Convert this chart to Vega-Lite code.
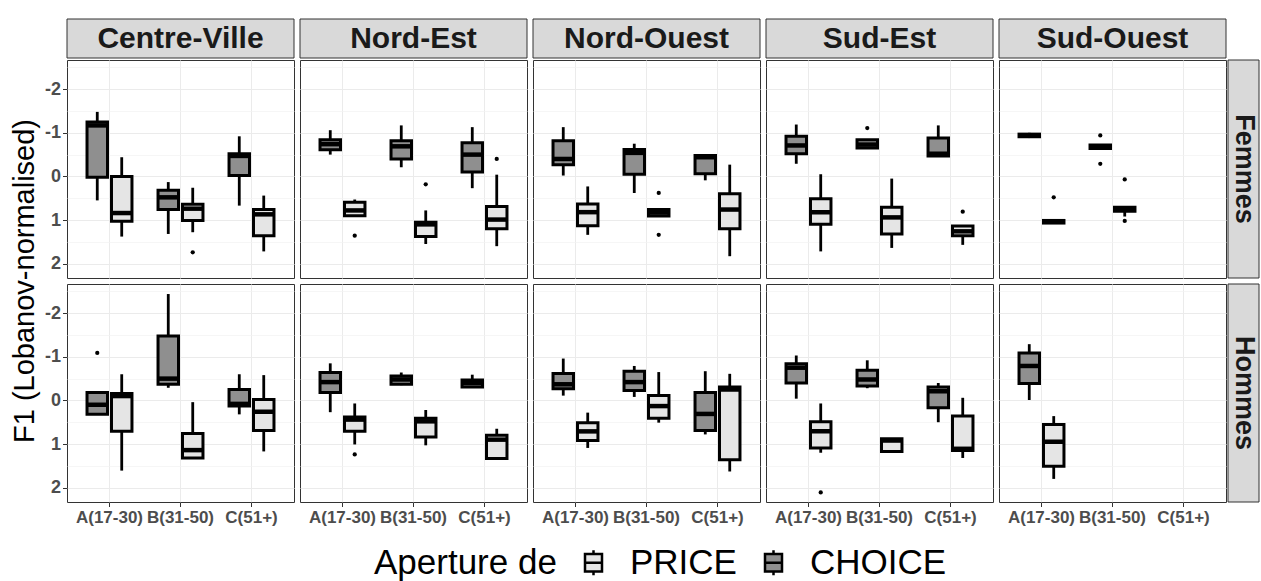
{
  "$schema": "https://vega.github.io/schema/vega-lite/v6.json",
  "background": "white",
  "padding": {"left": 0, "top": 18, "right": 0, "bottom": 0},
  "config": {
    "font": "Liberation Sans",
    "view": {"stroke": "#333333", "strokeWidth": 1},
    "locale": {"number": {"decimal": ".", "thousands": ",", "grouping": [3], "currency": ["$", ""], "minus": "-"}},
    "legend": {"direction": "horizontal", "titleOrient": "left", "titleFontSize": 35, "titleFontWeight": "normal", "titleColor": "black", "titleFont": "Liberation Sans", "titlePadding": 19, "titleLimit": 600,
      "labelFontSize": 35, "labelFont": "Liberation Sans", "labelColor": "black", "labelOffset": 19, "columnPadding": 19, "labelLimit": 400,
      "symbolType": "M-0.68,-0.7L0.68,-0.7L0.68,0.7L-0.68,0.7Z M-0.68,0L0.68,0 M0,-0.7L0,-1 M0,0.7L0,1",
      "symbolSize": 625, "symbolStrokeWidth": 2.5, "symbolStrokeColor": "black", "padding": 0}
  },
  "datasets": {
    "boxes": [
      {"region": "Centre-Ville", "sex": "Femmes", "age": "A(17-30)", "word": "CHOICE", "lo": -1.48, "q1": -1.25, "med": -1.17, "q3": 0.02, "hi": 0.55},
      {"region": "Centre-Ville", "sex": "Femmes", "age": "A(17-30)", "word": "PRICE", "lo": -0.44, "q1": 0.0, "med": 0.84, "q3": 1.03, "hi": 1.38},
      {"region": "Centre-Ville", "sex": "Femmes", "age": "B(31-50)", "word": "CHOICE", "lo": 0.13, "q1": 0.32, "med": 0.48, "q3": 0.76, "hi": 1.32},
      {"region": "Centre-Ville", "sex": "Femmes", "age": "B(31-50)", "word": "PRICE", "lo": 0.26, "q1": 0.64, "med": 0.74, "q3": 1.01, "hi": 1.28},
      {"region": "Centre-Ville", "sex": "Femmes", "age": "C(51+)", "word": "CHOICE", "lo": -0.92, "q1": -0.52, "med": -0.47, "q3": -0.02, "hi": 0.67},
      {"region": "Centre-Ville", "sex": "Femmes", "age": "C(51+)", "word": "PRICE", "lo": 0.44, "q1": 0.76, "med": 0.87, "q3": 1.36, "hi": 1.72},
      {"region": "Nord-Est", "sex": "Femmes", "age": "A(17-30)", "word": "CHOICE", "lo": -1.06, "q1": -0.84, "med": -0.74, "q3": -0.61, "hi": -0.5},
      {"region": "Nord-Est", "sex": "Femmes", "age": "A(17-30)", "word": "PRICE", "lo": 0.53, "q1": 0.59, "med": 0.78, "q3": 0.9, "hi": 0.9},
      {"region": "Nord-Est", "sex": "Femmes", "age": "B(31-50)", "word": "CHOICE", "lo": -1.17, "q1": -0.82, "med": -0.69, "q3": -0.4, "hi": -0.21},
      {"region": "Nord-Est", "sex": "Femmes", "age": "B(31-50)", "word": "PRICE", "lo": 0.78, "q1": 1.05, "med": 1.1, "q3": 1.38, "hi": 1.55},
      {"region": "Nord-Est", "sex": "Femmes", "age": "C(51+)", "word": "CHOICE", "lo": -1.13, "q1": -0.77, "med": -0.5, "q3": -0.1, "hi": 0.27},
      {"region": "Nord-Est", "sex": "Femmes", "age": "C(51+)", "word": "PRICE", "lo": -0.04, "q1": 0.69, "med": 0.99, "q3": 1.2, "hi": 1.6},
      {"region": "Nord-Ouest", "sex": "Femmes", "age": "A(17-30)", "word": "CHOICE", "lo": -1.13, "q1": -0.82, "med": -0.4, "q3": -0.27, "hi": -0.02},
      {"region": "Nord-Ouest", "sex": "Femmes", "age": "A(17-30)", "word": "PRICE", "lo": 0.23, "q1": 0.63, "med": 0.82, "q3": 1.13, "hi": 1.34},
      {"region": "Nord-Ouest", "sex": "Femmes", "age": "B(31-50)", "word": "CHOICE", "lo": -0.75, "q1": -0.62, "med": -0.54, "q3": -0.05, "hi": 0.38},
      {"region": "Nord-Ouest", "sex": "Femmes", "age": "B(31-50)", "word": "PRICE", "lo": 0.76, "q1": 0.76, "med": 0.83, "q3": 0.91, "hi": 0.91},
      {"region": "Nord-Ouest", "sex": "Femmes", "age": "C(51+)", "word": "CHOICE", "lo": -0.48, "q1": -0.48, "med": -0.44, "q3": -0.06, "hi": 0.09},
      {"region": "Nord-Ouest", "sex": "Femmes", "age": "C(51+)", "word": "PRICE", "lo": -0.27, "q1": 0.4, "med": 0.76, "q3": 1.2, "hi": 1.83},
      {"region": "Sud-Est", "sex": "Femmes", "age": "A(17-30)", "word": "CHOICE", "lo": -1.19, "q1": -0.92, "med": -0.71, "q3": -0.52, "hi": -0.29},
      {"region": "Sud-Est", "sex": "Femmes", "age": "A(17-30)", "word": "PRICE", "lo": -0.05, "q1": 0.51, "med": 0.82, "q3": 1.1, "hi": 1.72},
      {"region": "Sud-Est", "sex": "Femmes", "age": "B(31-50)", "word": "CHOICE", "lo": -0.84, "q1": -0.84, "med": -0.73, "q3": -0.65, "hi": -0.65},
      {"region": "Sud-Est", "sex": "Femmes", "age": "B(31-50)", "word": "PRICE", "lo": 0.05, "q1": 0.71, "med": 0.94, "q3": 1.32, "hi": 1.64},
      {"region": "Sud-Est", "sex": "Femmes", "age": "C(51+)", "word": "CHOICE", "lo": -1.17, "q1": -0.88, "med": -0.52, "q3": -0.47, "hi": -0.45},
      {"region": "Sud-Est", "sex": "Femmes", "age": "C(51+)", "word": "PRICE", "lo": 1.14, "q1": 1.14, "med": 1.26, "q3": 1.36, "hi": 1.57},
      {"region": "Sud-Ouest", "sex": "Femmes", "age": "A(17-30)", "word": "CHOICE", "lo": -1.0, "q1": -0.97, "med": -0.94, "q3": -0.91, "hi": -0.88},
      {"region": "Sud-Ouest", "sex": "Femmes", "age": "A(17-30)", "word": "PRICE", "lo": 1.01, "q1": 1.01, "med": 1.04, "q3": 1.07, "hi": 1.07},
      {"region": "Sud-Ouest", "sex": "Femmes", "age": "B(31-50)", "word": "CHOICE", "lo": -0.72, "q1": -0.72, "med": -0.68, "q3": -0.64, "hi": -0.64},
      {"region": "Sud-Ouest", "sex": "Femmes", "age": "B(31-50)", "word": "PRICE", "lo": 0.71, "q1": 0.71, "med": 0.75, "q3": 0.8, "hi": 0.92},
      {"region": "Centre-Ville", "sex": "Hommes", "age": "A(17-30)", "word": "CHOICE", "lo": -0.18, "q1": -0.18, "med": 0.1, "q3": 0.32, "hi": 0.32},
      {"region": "Centre-Ville", "sex": "Hommes", "age": "A(17-30)", "word": "PRICE", "lo": -0.6, "q1": -0.16, "med": -0.1, "q3": 0.71, "hi": 1.61},
      {"region": "Centre-Ville", "sex": "Hommes", "age": "B(31-50)", "word": "CHOICE", "lo": -2.44, "q1": -1.48, "med": -0.5, "q3": -0.37, "hi": -0.29},
      {"region": "Centre-Ville", "sex": "Hommes", "age": "B(31-50)", "word": "PRICE", "lo": 0.04, "q1": 0.76, "med": 1.14, "q3": 1.32, "hi": 1.32},
      {"region": "Centre-Ville", "sex": "Hommes", "age": "C(51+)", "word": "CHOICE", "lo": -0.6, "q1": -0.25, "med": 0.08, "q3": 0.13, "hi": 0.32},
      {"region": "Centre-Ville", "sex": "Hommes", "age": "C(51+)", "word": "PRICE", "lo": -0.58, "q1": -0.02, "med": 0.26, "q3": 0.69, "hi": 1.17},
      {"region": "Nord-Est", "sex": "Hommes", "age": "A(17-30)", "word": "CHOICE", "lo": -0.85, "q1": -0.64, "med": -0.42, "q3": -0.18, "hi": 0.27},
      {"region": "Nord-Est", "sex": "Hommes", "age": "A(17-30)", "word": "PRICE", "lo": 0.07, "q1": 0.38, "med": 0.44, "q3": 0.71, "hi": 1.01},
      {"region": "Nord-Est", "sex": "Hommes", "age": "B(31-50)", "word": "CHOICE", "lo": -0.64, "q1": -0.56, "med": -0.48, "q3": -0.37, "hi": -0.35},
      {"region": "Nord-Est", "sex": "Hommes", "age": "B(31-50)", "word": "PRICE", "lo": 0.22, "q1": 0.41, "med": 0.48, "q3": 0.84, "hi": 1.03},
      {"region": "Nord-Est", "sex": "Hommes", "age": "C(51+)", "word": "CHOICE", "lo": -0.59, "q1": -0.47, "med": -0.4, "q3": -0.31, "hi": -0.31},
      {"region": "Nord-Est", "sex": "Hommes", "age": "C(51+)", "word": "PRICE", "lo": 0.65, "q1": 0.8, "med": 0.9, "q3": 1.33, "hi": 1.33},
      {"region": "Nord-Ouest", "sex": "Hommes", "age": "A(17-30)", "word": "CHOICE", "lo": -0.96, "q1": -0.62, "med": -0.37, "q3": -0.27, "hi": -0.11},
      {"region": "Nord-Ouest", "sex": "Hommes", "age": "A(17-30)", "word": "PRICE", "lo": 0.28, "q1": 0.51, "med": 0.71, "q3": 0.92, "hi": 1.09},
      {"region": "Nord-Ouest", "sex": "Hommes", "age": "B(31-50)", "word": "CHOICE", "lo": -0.79, "q1": -0.67, "med": -0.42, "q3": -0.23, "hi": -0.08},
      {"region": "Nord-Ouest", "sex": "Hommes", "age": "B(31-50)", "word": "PRICE", "lo": -0.65, "q1": -0.11, "med": 0.13, "q3": 0.41, "hi": 0.51},
      {"region": "Nord-Ouest", "sex": "Hommes", "age": "C(51+)", "word": "CHOICE", "lo": -0.67, "q1": -0.18, "med": 0.31, "q3": 0.69, "hi": 0.78},
      {"region": "Nord-Ouest", "sex": "Hommes", "age": "C(51+)", "word": "PRICE", "lo": -0.61, "q1": -0.31, "med": -0.25, "q3": 1.36, "hi": 1.63},
      {"region": "Sud-Est", "sex": "Hommes", "age": "A(17-30)", "word": "CHOICE", "lo": -1.03, "q1": -0.84, "med": -0.75, "q3": -0.4, "hi": -0.04},
      {"region": "Sud-Est", "sex": "Hommes", "age": "A(17-30)", "word": "PRICE", "lo": 0.07, "q1": 0.49, "med": 0.71, "q3": 1.09, "hi": 1.2},
      {"region": "Sud-Est", "sex": "Hommes", "age": "B(31-50)", "word": "CHOICE", "lo": -0.92, "q1": -0.69, "med": -0.48, "q3": -0.33, "hi": -0.28},
      {"region": "Sud-Est", "sex": "Hommes", "age": "B(31-50)", "word": "PRICE", "lo": 0.88, "q1": 0.88, "med": 0.92, "q3": 1.17, "hi": 1.17},
      {"region": "Sud-Est", "sex": "Hommes", "age": "C(51+)", "word": "CHOICE", "lo": -0.4, "q1": -0.31, "med": -0.21, "q3": 0.17, "hi": 0.5},
      {"region": "Sud-Est", "sex": "Hommes", "age": "C(51+)", "word": "PRICE", "lo": -0.06, "q1": 0.36, "med": 1.11, "q3": 1.15, "hi": 1.32},
      {"region": "Sud-Ouest", "sex": "Hommes", "age": "A(17-30)", "word": "CHOICE", "lo": -1.29, "q1": -1.09, "med": -0.79, "q3": -0.39, "hi": -0.01},
      {"region": "Sud-Ouest", "sex": "Hommes", "age": "A(17-30)", "word": "PRICE", "lo": 0.36, "q1": 0.55, "med": 0.95, "q3": 1.51, "hi": 1.8}
    ],
    "outliers": [
      {"region": "Centre-Ville", "sex": "Femmes", "age": "B(31-50)", "word": "PRICE", "out": 1.74},
      {"region": "Nord-Est", "sex": "Femmes", "age": "A(17-30)", "word": "PRICE", "out": 1.36},
      {"region": "Nord-Est", "sex": "Femmes", "age": "B(31-50)", "word": "PRICE", "out": 0.18},
      {"region": "Nord-Est", "sex": "Femmes", "age": "C(51+)", "word": "PRICE", "out": -0.4},
      {"region": "Nord-Ouest", "sex": "Femmes", "age": "B(31-50)", "word": "PRICE", "out": 0.38},
      {"region": "Nord-Ouest", "sex": "Femmes", "age": "B(31-50)", "word": "PRICE", "out": 1.34},
      {"region": "Sud-Est", "sex": "Femmes", "age": "B(31-50)", "word": "CHOICE", "out": -1.11},
      {"region": "Sud-Est", "sex": "Femmes", "age": "C(51+)", "word": "PRICE", "out": 0.81},
      {"region": "Sud-Ouest", "sex": "Femmes", "age": "A(17-30)", "word": "PRICE", "out": 0.48},
      {"region": "Sud-Ouest", "sex": "Femmes", "age": "B(31-50)", "word": "CHOICE", "out": -0.94},
      {"region": "Sud-Ouest", "sex": "Femmes", "age": "B(31-50)", "word": "CHOICE", "out": -0.29},
      {"region": "Sud-Ouest", "sex": "Femmes", "age": "B(31-50)", "word": "PRICE", "out": 0.07},
      {"region": "Sud-Ouest", "sex": "Femmes", "age": "B(31-50)", "word": "PRICE", "out": 1.02},
      {"region": "Centre-Ville", "sex": "Hommes", "age": "A(17-30)", "word": "CHOICE", "out": -1.09},
      {"region": "Nord-Est", "sex": "Hommes", "age": "A(17-30)", "word": "PRICE", "out": 1.24},
      {"region": "Sud-Est", "sex": "Hommes", "age": "A(17-30)", "word": "PRICE", "out": 2.11}
    ]
  },
  "columns": 3,
  "align": "each",
  "spacing": {"row": 0, "column": 0},
  "concat": [
    {"width": 43, "height": 39, "view": {"stroke": null}, "data": {"values": []}, "mark": {"type": "rect", "opacity": 0}, "encoding": {}},
    {
      "data": {"values": [{"region": "Centre-Ville"}, {"region": "Nord-Est"}, {"region": "Nord-Ouest"}, {"region": "Sud-Est"}, {"region": "Sud-Ouest"}]},
      "facet": {"column": {"field": "region", "type": "nominal", "header": null}},
      "spacing": 4,
      "spec": {
        "width": 227, "height": 39,
        "layer": [
          {"mark": {"type": "rect", "fill": "#d9d9d9", "stroke": "#333333", "strokeWidth": 1}},
          {"mark": {"type": "text", "fontSize": 30, "fontWeight": "bold", "color": "#1a1a1a", "align": "center", "baseline": "middle"},
           "encoding": {"text": {"field": "region", "type": "nominal"}}}
        ]
      }
    },
    {"width": 31, "height": 39, "view": {"stroke": null}, "data": {"values": []}, "mark": {"type": "rect", "opacity": 0}, "encoding": {}},
    {
      "width": 43, "height": 442, "view": {"stroke": null},
      "data": {"values": [{"label": "F1 (Lobanov-normalised)"}]},
      "mark": {"type": "text", "angle": -90, "fontSize": 29, "color": "black", "align": "center", "baseline": "middle", "dy": 3},
      "encoding": {"text": {"field": "label", "type": "nominal"}}
    },
    {
      "columns": 5,
      "spacing": {"row": 4, "column": 4},
      "concat": [
        {"width": 227, "height": 218, "resolve": {"axis": {"y": "independent"}},
         "encoding": {"x": {"field": "age", "type": "nominal", "title": null, "scale": {"domain": ["A(17-30)", "B(31-50)", "C(51+)"], "paddingInner": 0.367, "paddingOuter": 0.282}, "axis": {"labels": false, "ticks": false, "domain": false, "grid": true, "gridColor": "#ebebeb", "gridWidth": 1, "bandPosition": 0.5}},
           "xOffset": {"field": "word", "type": "nominal", "scale": {"domain": ["CHOICE", "PRICE"], "paddingInner": 0.163, "paddingOuter": 0}}},
         "layer": [
           {"data": {"name": "boxes"}, "transform": [{"filter": "datum.region == 'Centre-Ville' && datum.sex == 'Femmes'"}], "mark": {"type": "rule", "color": "black", "strokeWidth": 2.8},
            "encoding": {"y": {"field": "lo", "type": "quantitative", "scale": {"domain": [-2.67, 2.33], "reverse": true, "nice": false, "zero": false}, "axis": {"orient": "right", "title": null, "values": [-2.5, -2, -1.5, -1, -0.5, 0, 0.5, 1, 1.5, 2], "labels": false, "ticks": false, "domain": false, "grid": true, "gridColor": {"condition": {"test": "abs(datum.value - round(datum.value)) > 0.01", "value": "#f2f2f2"}, "value": "#ebebeb"}, "gridWidth": {"condition": {"test": "abs(datum.value - round(datum.value)) > 0.01", "value": 0.7}, "value": 1.1}}}, "y2": {"field": "hi"}}},
           {"data": {"name": "boxes"}, "transform": [{"filter": "datum.region == 'Centre-Ville' && datum.sex == 'Femmes'"}], "mark": {"type": "bar", "stroke": "black", "strokeWidth": 3},
            "encoding": {"y": {"field": "q1", "type": "quantitative", "scale": {"domain": [-2.67, 2.33], "reverse": true, "nice": false, "zero": false}, "axis": {"orient": "left", "title": null, "values": [-2, -1, 0, 1, 2], "labelFontSize": 18, "labelFontWeight": "bold", "labelColor": "#4d4d4d", "labelPadding": 2, "tickColor": "#333333", "tickSize": 4.5, "tickWidth": 1, "domain": false, "grid": false}}, "y2": {"field": "q3"},
              "color": {"field": "word", "type": "nominal", "title": "Aperture de", "scale": {"domain": ["PRICE", "CHOICE"], "range": ["#e5e5e5", "#8f8f8f"]}, "legend": {"orient": "none", "legendX": 374, "legendY": 526}}}},
           {"data": {"name": "boxes"}, "transform": [{"filter": "datum.region == 'Centre-Ville' && datum.sex == 'Femmes'"}], "mark": {"type": "tick", "orient": "horizontal", "thickness": 4.5, "size": 21, "color": "black", "opacity": 1},
            "encoding": {"y": {"field": "med", "type": "quantitative", "scale": {"domain": [-2.67, 2.33], "reverse": true, "nice": false, "zero": false}, "axis": null}}},
           {"data": {"name": "outliers"}, "transform": [{"filter": "datum.region == 'Centre-Ville' && datum.sex == 'Femmes'"}], "mark": {"type": "point", "filled": true, "color": "black", "opacity": 1, "size": 18},
            "encoding": {"y": {"field": "out", "type": "quantitative", "scale": {"domain": [-2.67, 2.33], "reverse": true, "nice": false, "zero": false}, "axis": null}}}
         ]},
        {"width": 227, "height": 218, "resolve": {"axis": {"y": "independent"}},
         "encoding": {"x": {"field": "age", "type": "nominal", "title": null, "scale": {"domain": ["A(17-30)", "B(31-50)", "C(51+)"], "paddingInner": 0.367, "paddingOuter": 0.282}, "axis": {"labels": false, "ticks": false, "domain": false, "grid": true, "gridColor": "#ebebeb", "gridWidth": 1, "bandPosition": 0.5}},
           "xOffset": {"field": "word", "type": "nominal", "scale": {"domain": ["CHOICE", "PRICE"], "paddingInner": 0.163, "paddingOuter": 0}}},
         "layer": [
           {"data": {"name": "boxes"}, "transform": [{"filter": "datum.region == 'Nord-Est' && datum.sex == 'Femmes'"}], "mark": {"type": "rule", "color": "black", "strokeWidth": 2.8},
            "encoding": {"y": {"field": "lo", "type": "quantitative", "scale": {"domain": [-2.67, 2.33], "reverse": true, "nice": false, "zero": false}, "axis": {"orient": "right", "title": null, "values": [-2.5, -2, -1.5, -1, -0.5, 0, 0.5, 1, 1.5, 2], "labels": false, "ticks": false, "domain": false, "grid": true, "gridColor": {"condition": {"test": "abs(datum.value - round(datum.value)) > 0.01", "value": "#f2f2f2"}, "value": "#ebebeb"}, "gridWidth": {"condition": {"test": "abs(datum.value - round(datum.value)) > 0.01", "value": 0.7}, "value": 1.1}}}, "y2": {"field": "hi"}}},
           {"data": {"name": "boxes"}, "transform": [{"filter": "datum.region == 'Nord-Est' && datum.sex == 'Femmes'"}], "mark": {"type": "bar", "stroke": "black", "strokeWidth": 3},
            "encoding": {"y": {"field": "q1", "type": "quantitative", "scale": {"domain": [-2.67, 2.33], "reverse": true, "nice": false, "zero": false}, "axis": null}, "y2": {"field": "q3"},
              "color": {"field": "word", "type": "nominal", "title": "Aperture de", "scale": {"domain": ["PRICE", "CHOICE"], "range": ["#e5e5e5", "#8f8f8f"]}, "legend": {"orient": "none", "legendX": 374, "legendY": 526}}}},
           {"data": {"name": "boxes"}, "transform": [{"filter": "datum.region == 'Nord-Est' && datum.sex == 'Femmes'"}], "mark": {"type": "tick", "orient": "horizontal", "thickness": 4.5, "size": 21, "color": "black", "opacity": 1},
            "encoding": {"y": {"field": "med", "type": "quantitative", "scale": {"domain": [-2.67, 2.33], "reverse": true, "nice": false, "zero": false}, "axis": null}}},
           {"data": {"name": "outliers"}, "transform": [{"filter": "datum.region == 'Nord-Est' && datum.sex == 'Femmes'"}], "mark": {"type": "point", "filled": true, "color": "black", "opacity": 1, "size": 18},
            "encoding": {"y": {"field": "out", "type": "quantitative", "scale": {"domain": [-2.67, 2.33], "reverse": true, "nice": false, "zero": false}, "axis": null}}}
         ]},
        {"width": 227, "height": 218, "resolve": {"axis": {"y": "independent"}},
         "encoding": {"x": {"field": "age", "type": "nominal", "title": null, "scale": {"domain": ["A(17-30)", "B(31-50)", "C(51+)"], "paddingInner": 0.367, "paddingOuter": 0.282}, "axis": {"labels": false, "ticks": false, "domain": false, "grid": true, "gridColor": "#ebebeb", "gridWidth": 1, "bandPosition": 0.5}},
           "xOffset": {"field": "word", "type": "nominal", "scale": {"domain": ["CHOICE", "PRICE"], "paddingInner": 0.163, "paddingOuter": 0}}},
         "layer": [
           {"data": {"name": "boxes"}, "transform": [{"filter": "datum.region == 'Nord-Ouest' && datum.sex == 'Femmes'"}], "mark": {"type": "rule", "color": "black", "strokeWidth": 2.8},
            "encoding": {"y": {"field": "lo", "type": "quantitative", "scale": {"domain": [-2.67, 2.33], "reverse": true, "nice": false, "zero": false}, "axis": {"orient": "right", "title": null, "values": [-2.5, -2, -1.5, -1, -0.5, 0, 0.5, 1, 1.5, 2], "labels": false, "ticks": false, "domain": false, "grid": true, "gridColor": {"condition": {"test": "abs(datum.value - round(datum.value)) > 0.01", "value": "#f2f2f2"}, "value": "#ebebeb"}, "gridWidth": {"condition": {"test": "abs(datum.value - round(datum.value)) > 0.01", "value": 0.7}, "value": 1.1}}}, "y2": {"field": "hi"}}},
           {"data": {"name": "boxes"}, "transform": [{"filter": "datum.region == 'Nord-Ouest' && datum.sex == 'Femmes'"}], "mark": {"type": "bar", "stroke": "black", "strokeWidth": 3},
            "encoding": {"y": {"field": "q1", "type": "quantitative", "scale": {"domain": [-2.67, 2.33], "reverse": true, "nice": false, "zero": false}, "axis": null}, "y2": {"field": "q3"},
              "color": {"field": "word", "type": "nominal", "title": "Aperture de", "scale": {"domain": ["PRICE", "CHOICE"], "range": ["#e5e5e5", "#8f8f8f"]}, "legend": {"orient": "none", "legendX": 374, "legendY": 526}}}},
           {"data": {"name": "boxes"}, "transform": [{"filter": "datum.region == 'Nord-Ouest' && datum.sex == 'Femmes'"}], "mark": {"type": "tick", "orient": "horizontal", "thickness": 4.5, "size": 21, "color": "black", "opacity": 1},
            "encoding": {"y": {"field": "med", "type": "quantitative", "scale": {"domain": [-2.67, 2.33], "reverse": true, "nice": false, "zero": false}, "axis": null}}},
           {"data": {"name": "outliers"}, "transform": [{"filter": "datum.region == 'Nord-Ouest' && datum.sex == 'Femmes'"}], "mark": {"type": "point", "filled": true, "color": "black", "opacity": 1, "size": 18},
            "encoding": {"y": {"field": "out", "type": "quantitative", "scale": {"domain": [-2.67, 2.33], "reverse": true, "nice": false, "zero": false}, "axis": null}}}
         ]},
        {"width": 227, "height": 218, "resolve": {"axis": {"y": "independent"}},
         "encoding": {"x": {"field": "age", "type": "nominal", "title": null, "scale": {"domain": ["A(17-30)", "B(31-50)", "C(51+)"], "paddingInner": 0.367, "paddingOuter": 0.282}, "axis": {"labels": false, "ticks": false, "domain": false, "grid": true, "gridColor": "#ebebeb", "gridWidth": 1, "bandPosition": 0.5}},
           "xOffset": {"field": "word", "type": "nominal", "scale": {"domain": ["CHOICE", "PRICE"], "paddingInner": 0.163, "paddingOuter": 0}}},
         "layer": [
           {"data": {"name": "boxes"}, "transform": [{"filter": "datum.region == 'Sud-Est' && datum.sex == 'Femmes'"}], "mark": {"type": "rule", "color": "black", "strokeWidth": 2.8},
            "encoding": {"y": {"field": "lo", "type": "quantitative", "scale": {"domain": [-2.67, 2.33], "reverse": true, "nice": false, "zero": false}, "axis": {"orient": "right", "title": null, "values": [-2.5, -2, -1.5, -1, -0.5, 0, 0.5, 1, 1.5, 2], "labels": false, "ticks": false, "domain": false, "grid": true, "gridColor": {"condition": {"test": "abs(datum.value - round(datum.value)) > 0.01", "value": "#f2f2f2"}, "value": "#ebebeb"}, "gridWidth": {"condition": {"test": "abs(datum.value - round(datum.value)) > 0.01", "value": 0.7}, "value": 1.1}}}, "y2": {"field": "hi"}}},
           {"data": {"name": "boxes"}, "transform": [{"filter": "datum.region == 'Sud-Est' && datum.sex == 'Femmes'"}], "mark": {"type": "bar", "stroke": "black", "strokeWidth": 3},
            "encoding": {"y": {"field": "q1", "type": "quantitative", "scale": {"domain": [-2.67, 2.33], "reverse": true, "nice": false, "zero": false}, "axis": null}, "y2": {"field": "q3"},
              "color": {"field": "word", "type": "nominal", "title": "Aperture de", "scale": {"domain": ["PRICE", "CHOICE"], "range": ["#e5e5e5", "#8f8f8f"]}, "legend": {"orient": "none", "legendX": 374, "legendY": 526}}}},
           {"data": {"name": "boxes"}, "transform": [{"filter": "datum.region == 'Sud-Est' && datum.sex == 'Femmes'"}], "mark": {"type": "tick", "orient": "horizontal", "thickness": 4.5, "size": 21, "color": "black", "opacity": 1},
            "encoding": {"y": {"field": "med", "type": "quantitative", "scale": {"domain": [-2.67, 2.33], "reverse": true, "nice": false, "zero": false}, "axis": null}}},
           {"data": {"name": "outliers"}, "transform": [{"filter": "datum.region == 'Sud-Est' && datum.sex == 'Femmes'"}], "mark": {"type": "point", "filled": true, "color": "black", "opacity": 1, "size": 18},
            "encoding": {"y": {"field": "out", "type": "quantitative", "scale": {"domain": [-2.67, 2.33], "reverse": true, "nice": false, "zero": false}, "axis": null}}}
         ]},
        {"width": 227, "height": 218, "resolve": {"axis": {"y": "independent"}},
         "encoding": {"x": {"field": "age", "type": "nominal", "title": null, "scale": {"domain": ["A(17-30)", "B(31-50)", "C(51+)"], "paddingInner": 0.367, "paddingOuter": 0.282}, "axis": {"labels": false, "ticks": false, "domain": false, "grid": true, "gridColor": "#ebebeb", "gridWidth": 1, "bandPosition": 0.5}},
           "xOffset": {"field": "word", "type": "nominal", "scale": {"domain": ["CHOICE", "PRICE"], "paddingInner": 0.163, "paddingOuter": 0}}},
         "layer": [
           {"data": {"name": "boxes"}, "transform": [{"filter": "datum.region == 'Sud-Ouest' && datum.sex == 'Femmes'"}], "mark": {"type": "rule", "color": "black", "strokeWidth": 2.8},
            "encoding": {"y": {"field": "lo", "type": "quantitative", "scale": {"domain": [-2.67, 2.33], "reverse": true, "nice": false, "zero": false}, "axis": {"orient": "right", "title": null, "values": [-2.5, -2, -1.5, -1, -0.5, 0, 0.5, 1, 1.5, 2], "labels": false, "ticks": false, "domain": false, "grid": true, "gridColor": {"condition": {"test": "abs(datum.value - round(datum.value)) > 0.01", "value": "#f2f2f2"}, "value": "#ebebeb"}, "gridWidth": {"condition": {"test": "abs(datum.value - round(datum.value)) > 0.01", "value": 0.7}, "value": 1.1}}}, "y2": {"field": "hi"}}},
           {"data": {"name": "boxes"}, "transform": [{"filter": "datum.region == 'Sud-Ouest' && datum.sex == 'Femmes'"}], "mark": {"type": "bar", "stroke": "black", "strokeWidth": 3},
            "encoding": {"y": {"field": "q1", "type": "quantitative", "scale": {"domain": [-2.67, 2.33], "reverse": true, "nice": false, "zero": false}, "axis": null}, "y2": {"field": "q3"},
              "color": {"field": "word", "type": "nominal", "title": "Aperture de", "scale": {"domain": ["PRICE", "CHOICE"], "range": ["#e5e5e5", "#8f8f8f"]}, "legend": {"orient": "none", "legendX": 374, "legendY": 526}}}},
           {"data": {"name": "boxes"}, "transform": [{"filter": "datum.region == 'Sud-Ouest' && datum.sex == 'Femmes'"}], "mark": {"type": "tick", "orient": "horizontal", "thickness": 4.5, "size": 21, "color": "black", "opacity": 1},
            "encoding": {"y": {"field": "med", "type": "quantitative", "scale": {"domain": [-2.67, 2.33], "reverse": true, "nice": false, "zero": false}, "axis": null}}},
           {"data": {"name": "outliers"}, "transform": [{"filter": "datum.region == 'Sud-Ouest' && datum.sex == 'Femmes'"}], "mark": {"type": "point", "filled": true, "color": "black", "opacity": 1, "size": 18},
            "encoding": {"y": {"field": "out", "type": "quantitative", "scale": {"domain": [-2.67, 2.33], "reverse": true, "nice": false, "zero": false}, "axis": null}}}
         ]},
        {"width": 227, "height": 218, "resolve": {"axis": {"y": "independent"}},
         "encoding": {"x": {"field": "age", "type": "nominal", "title": null, "scale": {"domain": ["A(17-30)", "B(31-50)", "C(51+)"], "paddingInner": 0.367, "paddingOuter": 0.282}, "axis": {"labelAngle": 0, "labelFontSize": 17, "labelFontWeight": "bold", "labelColor": "#4d4d4d", "labelOverlap": false, "labelLimit": 0, "labelPadding": 3, "tickColor": "#333333", "tickSize": 4.5, "tickWidth": 1, "domain": false, "grid": true, "gridColor": "#ebebeb", "gridWidth": 1, "bandPosition": 0.5}},
           "xOffset": {"field": "word", "type": "nominal", "scale": {"domain": ["CHOICE", "PRICE"], "paddingInner": 0.163, "paddingOuter": 0}}},
         "layer": [
           {"data": {"name": "boxes"}, "transform": [{"filter": "datum.region == 'Centre-Ville' && datum.sex == 'Hommes'"}], "mark": {"type": "rule", "color": "black", "strokeWidth": 2.8},
            "encoding": {"y": {"field": "lo", "type": "quantitative", "scale": {"domain": [-2.67, 2.33], "reverse": true, "nice": false, "zero": false}, "axis": {"orient": "right", "title": null, "values": [-2.5, -2, -1.5, -1, -0.5, 0, 0.5, 1, 1.5, 2], "labels": false, "ticks": false, "domain": false, "grid": true, "gridColor": {"condition": {"test": "abs(datum.value - round(datum.value)) > 0.01", "value": "#f2f2f2"}, "value": "#ebebeb"}, "gridWidth": {"condition": {"test": "abs(datum.value - round(datum.value)) > 0.01", "value": 0.7}, "value": 1.1}}}, "y2": {"field": "hi"}}},
           {"data": {"name": "boxes"}, "transform": [{"filter": "datum.region == 'Centre-Ville' && datum.sex == 'Hommes'"}], "mark": {"type": "bar", "stroke": "black", "strokeWidth": 3},
            "encoding": {"y": {"field": "q1", "type": "quantitative", "scale": {"domain": [-2.67, 2.33], "reverse": true, "nice": false, "zero": false}, "axis": {"orient": "left", "title": null, "values": [-2, -1, 0, 1, 2], "labelFontSize": 18, "labelFontWeight": "bold", "labelColor": "#4d4d4d", "labelPadding": 2, "tickColor": "#333333", "tickSize": 4.5, "tickWidth": 1, "domain": false, "grid": false}}, "y2": {"field": "q3"},
              "color": {"field": "word", "type": "nominal", "title": "Aperture de", "scale": {"domain": ["PRICE", "CHOICE"], "range": ["#e5e5e5", "#8f8f8f"]}, "legend": {"orient": "none", "legendX": 374, "legendY": 526}}}},
           {"data": {"name": "boxes"}, "transform": [{"filter": "datum.region == 'Centre-Ville' && datum.sex == 'Hommes'"}], "mark": {"type": "tick", "orient": "horizontal", "thickness": 4.5, "size": 21, "color": "black", "opacity": 1},
            "encoding": {"y": {"field": "med", "type": "quantitative", "scale": {"domain": [-2.67, 2.33], "reverse": true, "nice": false, "zero": false}, "axis": null}}},
           {"data": {"name": "outliers"}, "transform": [{"filter": "datum.region == 'Centre-Ville' && datum.sex == 'Hommes'"}], "mark": {"type": "point", "filled": true, "color": "black", "opacity": 1, "size": 18},
            "encoding": {"y": {"field": "out", "type": "quantitative", "scale": {"domain": [-2.67, 2.33], "reverse": true, "nice": false, "zero": false}, "axis": null}}}
         ]},
        {"width": 227, "height": 218, "resolve": {"axis": {"y": "independent"}},
         "encoding": {"x": {"field": "age", "type": "nominal", "title": null, "scale": {"domain": ["A(17-30)", "B(31-50)", "C(51+)"], "paddingInner": 0.367, "paddingOuter": 0.282}, "axis": {"labelAngle": 0, "labelFontSize": 17, "labelFontWeight": "bold", "labelColor": "#4d4d4d", "labelOverlap": false, "labelLimit": 0, "labelPadding": 3, "tickColor": "#333333", "tickSize": 4.5, "tickWidth": 1, "domain": false, "grid": true, "gridColor": "#ebebeb", "gridWidth": 1, "bandPosition": 0.5}},
           "xOffset": {"field": "word", "type": "nominal", "scale": {"domain": ["CHOICE", "PRICE"], "paddingInner": 0.163, "paddingOuter": 0}}},
         "layer": [
           {"data": {"name": "boxes"}, "transform": [{"filter": "datum.region == 'Nord-Est' && datum.sex == 'Hommes'"}], "mark": {"type": "rule", "color": "black", "strokeWidth": 2.8},
            "encoding": {"y": {"field": "lo", "type": "quantitative", "scale": {"domain": [-2.67, 2.33], "reverse": true, "nice": false, "zero": false}, "axis": {"orient": "right", "title": null, "values": [-2.5, -2, -1.5, -1, -0.5, 0, 0.5, 1, 1.5, 2], "labels": false, "ticks": false, "domain": false, "grid": true, "gridColor": {"condition": {"test": "abs(datum.value - round(datum.value)) > 0.01", "value": "#f2f2f2"}, "value": "#ebebeb"}, "gridWidth": {"condition": {"test": "abs(datum.value - round(datum.value)) > 0.01", "value": 0.7}, "value": 1.1}}}, "y2": {"field": "hi"}}},
           {"data": {"name": "boxes"}, "transform": [{"filter": "datum.region == 'Nord-Est' && datum.sex == 'Hommes'"}], "mark": {"type": "bar", "stroke": "black", "strokeWidth": 3},
            "encoding": {"y": {"field": "q1", "type": "quantitative", "scale": {"domain": [-2.67, 2.33], "reverse": true, "nice": false, "zero": false}, "axis": null}, "y2": {"field": "q3"},
              "color": {"field": "word", "type": "nominal", "title": "Aperture de", "scale": {"domain": ["PRICE", "CHOICE"], "range": ["#e5e5e5", "#8f8f8f"]}, "legend": {"orient": "none", "legendX": 374, "legendY": 526}}}},
           {"data": {"name": "boxes"}, "transform": [{"filter": "datum.region == 'Nord-Est' && datum.sex == 'Hommes'"}], "mark": {"type": "tick", "orient": "horizontal", "thickness": 4.5, "size": 21, "color": "black", "opacity": 1},
            "encoding": {"y": {"field": "med", "type": "quantitative", "scale": {"domain": [-2.67, 2.33], "reverse": true, "nice": false, "zero": false}, "axis": null}}},
           {"data": {"name": "outliers"}, "transform": [{"filter": "datum.region == 'Nord-Est' && datum.sex == 'Hommes'"}], "mark": {"type": "point", "filled": true, "color": "black", "opacity": 1, "size": 18},
            "encoding": {"y": {"field": "out", "type": "quantitative", "scale": {"domain": [-2.67, 2.33], "reverse": true, "nice": false, "zero": false}, "axis": null}}}
         ]},
        {"width": 227, "height": 218, "resolve": {"axis": {"y": "independent"}},
         "encoding": {"x": {"field": "age", "type": "nominal", "title": null, "scale": {"domain": ["A(17-30)", "B(31-50)", "C(51+)"], "paddingInner": 0.367, "paddingOuter": 0.282}, "axis": {"labelAngle": 0, "labelFontSize": 17, "labelFontWeight": "bold", "labelColor": "#4d4d4d", "labelOverlap": false, "labelLimit": 0, "labelPadding": 3, "tickColor": "#333333", "tickSize": 4.5, "tickWidth": 1, "domain": false, "grid": true, "gridColor": "#ebebeb", "gridWidth": 1, "bandPosition": 0.5}},
           "xOffset": {"field": "word", "type": "nominal", "scale": {"domain": ["CHOICE", "PRICE"], "paddingInner": 0.163, "paddingOuter": 0}}},
         "layer": [
           {"data": {"name": "boxes"}, "transform": [{"filter": "datum.region == 'Nord-Ouest' && datum.sex == 'Hommes'"}], "mark": {"type": "rule", "color": "black", "strokeWidth": 2.8},
            "encoding": {"y": {"field": "lo", "type": "quantitative", "scale": {"domain": [-2.67, 2.33], "reverse": true, "nice": false, "zero": false}, "axis": {"orient": "right", "title": null, "values": [-2.5, -2, -1.5, -1, -0.5, 0, 0.5, 1, 1.5, 2], "labels": false, "ticks": false, "domain": false, "grid": true, "gridColor": {"condition": {"test": "abs(datum.value - round(datum.value)) > 0.01", "value": "#f2f2f2"}, "value": "#ebebeb"}, "gridWidth": {"condition": {"test": "abs(datum.value - round(datum.value)) > 0.01", "value": 0.7}, "value": 1.1}}}, "y2": {"field": "hi"}}},
           {"data": {"name": "boxes"}, "transform": [{"filter": "datum.region == 'Nord-Ouest' && datum.sex == 'Hommes'"}], "mark": {"type": "bar", "stroke": "black", "strokeWidth": 3},
            "encoding": {"y": {"field": "q1", "type": "quantitative", "scale": {"domain": [-2.67, 2.33], "reverse": true, "nice": false, "zero": false}, "axis": null}, "y2": {"field": "q3"},
              "color": {"field": "word", "type": "nominal", "title": "Aperture de", "scale": {"domain": ["PRICE", "CHOICE"], "range": ["#e5e5e5", "#8f8f8f"]}, "legend": {"orient": "none", "legendX": 374, "legendY": 526}}}},
           {"data": {"name": "boxes"}, "transform": [{"filter": "datum.region == 'Nord-Ouest' && datum.sex == 'Hommes'"}], "mark": {"type": "tick", "orient": "horizontal", "thickness": 4.5, "size": 21, "color": "black", "opacity": 1},
            "encoding": {"y": {"field": "med", "type": "quantitative", "scale": {"domain": [-2.67, 2.33], "reverse": true, "nice": false, "zero": false}, "axis": null}}},
           {"data": {"name": "outliers"}, "transform": [{"filter": "datum.region == 'Nord-Ouest' && datum.sex == 'Hommes'"}], "mark": {"type": "point", "filled": true, "color": "black", "opacity": 1, "size": 18},
            "encoding": {"y": {"field": "out", "type": "quantitative", "scale": {"domain": [-2.67, 2.33], "reverse": true, "nice": false, "zero": false}, "axis": null}}}
         ]},
        {"width": 227, "height": 218, "resolve": {"axis": {"y": "independent"}},
         "encoding": {"x": {"field": "age", "type": "nominal", "title": null, "scale": {"domain": ["A(17-30)", "B(31-50)", "C(51+)"], "paddingInner": 0.367, "paddingOuter": 0.282}, "axis": {"labelAngle": 0, "labelFontSize": 17, "labelFontWeight": "bold", "labelColor": "#4d4d4d", "labelOverlap": false, "labelLimit": 0, "labelPadding": 3, "tickColor": "#333333", "tickSize": 4.5, "tickWidth": 1, "domain": false, "grid": true, "gridColor": "#ebebeb", "gridWidth": 1, "bandPosition": 0.5}},
           "xOffset": {"field": "word", "type": "nominal", "scale": {"domain": ["CHOICE", "PRICE"], "paddingInner": 0.163, "paddingOuter": 0}}},
         "layer": [
           {"data": {"name": "boxes"}, "transform": [{"filter": "datum.region == 'Sud-Est' && datum.sex == 'Hommes'"}], "mark": {"type": "rule", "color": "black", "strokeWidth": 2.8},
            "encoding": {"y": {"field": "lo", "type": "quantitative", "scale": {"domain": [-2.67, 2.33], "reverse": true, "nice": false, "zero": false}, "axis": {"orient": "right", "title": null, "values": [-2.5, -2, -1.5, -1, -0.5, 0, 0.5, 1, 1.5, 2], "labels": false, "ticks": false, "domain": false, "grid": true, "gridColor": {"condition": {"test": "abs(datum.value - round(datum.value)) > 0.01", "value": "#f2f2f2"}, "value": "#ebebeb"}, "gridWidth": {"condition": {"test": "abs(datum.value - round(datum.value)) > 0.01", "value": 0.7}, "value": 1.1}}}, "y2": {"field": "hi"}}},
           {"data": {"name": "boxes"}, "transform": [{"filter": "datum.region == 'Sud-Est' && datum.sex == 'Hommes'"}], "mark": {"type": "bar", "stroke": "black", "strokeWidth": 3},
            "encoding": {"y": {"field": "q1", "type": "quantitative", "scale": {"domain": [-2.67, 2.33], "reverse": true, "nice": false, "zero": false}, "axis": null}, "y2": {"field": "q3"},
              "color": {"field": "word", "type": "nominal", "title": "Aperture de", "scale": {"domain": ["PRICE", "CHOICE"], "range": ["#e5e5e5", "#8f8f8f"]}, "legend": {"orient": "none", "legendX": 374, "legendY": 526}}}},
           {"data": {"name": "boxes"}, "transform": [{"filter": "datum.region == 'Sud-Est' && datum.sex == 'Hommes'"}], "mark": {"type": "tick", "orient": "horizontal", "thickness": 4.5, "size": 21, "color": "black", "opacity": 1},
            "encoding": {"y": {"field": "med", "type": "quantitative", "scale": {"domain": [-2.67, 2.33], "reverse": true, "nice": false, "zero": false}, "axis": null}}},
           {"data": {"name": "outliers"}, "transform": [{"filter": "datum.region == 'Sud-Est' && datum.sex == 'Hommes'"}], "mark": {"type": "point", "filled": true, "color": "black", "opacity": 1, "size": 18},
            "encoding": {"y": {"field": "out", "type": "quantitative", "scale": {"domain": [-2.67, 2.33], "reverse": true, "nice": false, "zero": false}, "axis": null}}}
         ]},
        {"width": 227, "height": 218, "resolve": {"axis": {"y": "independent"}},
         "encoding": {"x": {"field": "age", "type": "nominal", "title": null, "scale": {"domain": ["A(17-30)", "B(31-50)", "C(51+)"], "paddingInner": 0.367, "paddingOuter": 0.282}, "axis": {"labelAngle": 0, "labelFontSize": 17, "labelFontWeight": "bold", "labelColor": "#4d4d4d", "labelOverlap": false, "labelLimit": 0, "labelPadding": 3, "tickColor": "#333333", "tickSize": 4.5, "tickWidth": 1, "domain": false, "grid": true, "gridColor": "#ebebeb", "gridWidth": 1, "bandPosition": 0.5}},
           "xOffset": {"field": "word", "type": "nominal", "scale": {"domain": ["CHOICE", "PRICE"], "paddingInner": 0.163, "paddingOuter": 0}}},
         "layer": [
           {"data": {"name": "boxes"}, "transform": [{"filter": "datum.region == 'Sud-Ouest' && datum.sex == 'Hommes'"}], "mark": {"type": "rule", "color": "black", "strokeWidth": 2.8},
            "encoding": {"y": {"field": "lo", "type": "quantitative", "scale": {"domain": [-2.67, 2.33], "reverse": true, "nice": false, "zero": false}, "axis": {"orient": "right", "title": null, "values": [-2.5, -2, -1.5, -1, -0.5, 0, 0.5, 1, 1.5, 2], "labels": false, "ticks": false, "domain": false, "grid": true, "gridColor": {"condition": {"test": "abs(datum.value - round(datum.value)) > 0.01", "value": "#f2f2f2"}, "value": "#ebebeb"}, "gridWidth": {"condition": {"test": "abs(datum.value - round(datum.value)) > 0.01", "value": 0.7}, "value": 1.1}}}, "y2": {"field": "hi"}}},
           {"data": {"name": "boxes"}, "transform": [{"filter": "datum.region == 'Sud-Ouest' && datum.sex == 'Hommes'"}], "mark": {"type": "bar", "stroke": "black", "strokeWidth": 3},
            "encoding": {"y": {"field": "q1", "type": "quantitative", "scale": {"domain": [-2.67, 2.33], "reverse": true, "nice": false, "zero": false}, "axis": null}, "y2": {"field": "q3"},
              "color": {"field": "word", "type": "nominal", "title": "Aperture de", "scale": {"domain": ["PRICE", "CHOICE"], "range": ["#e5e5e5", "#8f8f8f"]}, "legend": {"orient": "none", "legendX": 374, "legendY": 526}}}},
           {"data": {"name": "boxes"}, "transform": [{"filter": "datum.region == 'Sud-Ouest' && datum.sex == 'Hommes'"}], "mark": {"type": "tick", "orient": "horizontal", "thickness": 4.5, "size": 21, "color": "black", "opacity": 1},
            "encoding": {"y": {"field": "med", "type": "quantitative", "scale": {"domain": [-2.67, 2.33], "reverse": true, "nice": false, "zero": false}, "axis": null}}},
           {"data": {"name": "outliers"}, "transform": [{"filter": "datum.region == 'Sud-Ouest' && datum.sex == 'Hommes'"}], "mark": {"type": "point", "filled": true, "color": "black", "opacity": 1, "size": 18},
            "encoding": {"y": {"field": "out", "type": "quantitative", "scale": {"domain": [-2.67, 2.33], "reverse": true, "nice": false, "zero": false}, "axis": null}}}
         ]}
      ]
    },
    {
      "data": {"values": [{"sex": "Femmes"}, {"sex": "Hommes"}]},
      "facet": {"row": {"field": "sex", "type": "nominal", "header": null}},
      "spacing": 4,
      "spec": {
        "width": 31, "height": 218,
        "layer": [
          {"mark": {"type": "rect", "fill": "#d9d9d9", "stroke": "#333333", "strokeWidth": 1}},
          {"mark": {"type": "text", "fontSize": 27, "fontWeight": "bold", "color": "#1a1a1a", "angle": 90, "align": "center", "baseline": "middle"},
           "encoding": {"text": {"field": "sex", "type": "nominal"}}}
        ]
      }
    }
  ]
}
